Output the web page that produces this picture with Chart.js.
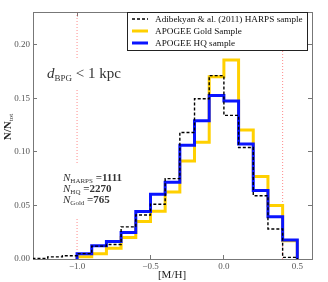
<!DOCTYPE html>
<html>
<head>
<meta charset="utf-8">
<script src="https://cdn.jsdelivr.net/npm/chart.js@4.4.1/dist/chart.umd.min.js"></script>
<style>
html, body { margin: 0; padding: 0; background: #fff; }
</style>
</head>
<body>
<canvas id="mhChart" width="328" height="282"></canvas>
<script>
// bin edges in [M/H], 0.1 dex wide
const harpsEdges = [-1.3, -1.2, -1.1, -1.0, -0.9, -0.8, -0.7, -0.6, -0.5, -0.4, -0.3, -0.2, -0.1, 0.0, 0.1, 0.2, 0.3, 0.4, 0.5];
const apogeeEdges = [-1.0, -0.9, -0.8, -0.7, -0.6, -0.5, -0.4, -0.3, -0.2, -0.1, 0.0, 0.1, 0.2, 0.3, 0.4, 0.5];

// N/Ntot per bin
const harpsValues = [0.0005, 0.002, 0.003, 0.005, 0.012, 0.0135, 0.030, 0.041, 0.051, 0.075, 0.118, 0.1495, 0.171, 0.134, 0.104, 0.059, 0.028, 0.0015];
const goldValues = [0.002, 0.005, 0.010, 0.020, 0.035, 0.0445, 0.0626, 0.0914, 0.109, 0.170, 0.1857, 0.1204, 0.077, 0.050, 0.017];
const hqValues = [0.005, 0.0123, 0.0163, 0.0248, 0.0442, 0.0604, 0.0715, 0.106, 0.129, 0.1526, 0.1474, 0.1072, 0.0638, 0.0393, 0.0178];

const limitLines = [-1.0, 0.4];
const xTicks = [-1.0, -0.5, 0.0, 0.5];
const yTicks = [0.00, 0.05, 0.10, 0.15, 0.20];

const seriesLabels = ['Adibekyan & al. (2011) HARPS sample', 'APOGEE Gold Sample', 'APOGEE HQ sample'];

const X_MIN = -1.3, X_MAX = 0.6, Y_MIN = 0, Y_MAX = 0.23;
const SERIF = '"Liberation Serif", "DejaVu Serif", serif';

// outline of a step histogram: up from 0 at the first edge, down to 0 at the last
function stepPoints(edges, values) {
    const pts = [{ x: edges[0], y: 0 }];
    values.forEach((v, i) => pts.push({ x: edges[i], y: v }));
    pts.push({ x: edges[edges.length - 1], y: 0 });
    return pts;
}

function fmtX(v) {
    return (v < 0 ? '\u2212' : '') + Math.abs(v).toFixed(1);
}

// draws runs of [text, font, dy] one after another
function richText(ctx, x, y, runs) {
    runs.forEach(r => {
        ctx.font = r[1];
        ctx.fillText(r[0], x, y + (r[2] || 0));
        x += ctx.measureText(r[0]).width;
    });
}

const overlay = {
    id: 'overlay',
    afterDatasetsDraw(chart) {
        const ctx = chart.ctx;
        ctx.save();
        // white boxes behind the annotations
        ctx.fillStyle = '#fff';
        ctx.fillRect(42, 58, 82, 30);
        ctx.fillRect(58, 164, 72, 54);

        ctx.fillStyle = '#333';
        ctx.textBaseline = 'alphabetic';
        ctx.textAlign = 'left';
        richText(ctx, 47, 78, [
            ['d', 'italic 15px ' + SERIF],
            ['BPG', '9px ' + SERIF, 3],
            [' < 1 kpc', '15px ' + SERIF]
        ]);
        const counts = [['HARPS', '1111'], ['HQ', '2270'], ['Gold', '765']];
        counts.forEach((c, i) => {
            richText(ctx, 63, 180.5 + i * 11, [
                ['N', 'italic 11px ' + SERIF],
                [c[0], '7px ' + SERIF, 2],
                [' =' + c[1], 'bold 11px ' + SERIF]
            ]);
        });

        // axis titles
        ctx.fillStyle = '#222';
        ctx.textAlign = 'center';
        ctx.font = '11px ' + SERIF;
        ctx.fillText('[M/H]', 172, 278);
        ctx.save();
        ctx.translate(11, 127);
        ctx.rotate(-Math.PI / 2);
        ctx.textAlign = 'left';
        ctx.font = 'bold 11px ' + SERIF;
        const w1 = ctx.measureText('N/N').width;
        ctx.font = '7px ' + SERIF;
        const w2 = ctx.measureText('tot').width;
        richText(ctx, -(w1 + w2) / 2, 0, [
            ['N/N', 'bold 11px ' + SERIF],
            ['tot', '7px ' + SERIF, 2]
        ]);
        ctx.restore();
        ctx.restore();
    },
    afterDraw(chart) {
        const ctx = chart.ctx;
        const ds = chart.data.datasets;
        ctx.save();
        ctx.fillStyle = '#fff';
        ctx.strokeStyle = '#222';
        ctx.lineWidth = 1;
        ctx.fillRect(127.5, 12.5, 180, 38);
        ctx.strokeRect(127.5, 12.5, 180, 38);
        ctx.font = '9.2px ' + SERIF;
        ctx.textBaseline = 'middle';
        ctx.fillStyle = '#111';
        [0, 1, 2].forEach(i => {
            const y = 19 + i * 12;
            ctx.beginPath();
            ctx.strokeStyle = ds[i].borderColor;
            ctx.lineWidth = ds[i].borderWidth;
            ctx.setLineDash(ds[i].borderDash || []);
            ctx.moveTo(132, y);
            ctx.lineTo(148, y);
            ctx.stroke();
            ctx.fillText(seriesLabels[i], 155, y + 0.5);
        });
        ctx.restore();
    }
};

const histStyle = { pointRadius: 0, stepped: 'before', fill: false, tension: 0 };

const datasets = [
    Object.assign({
        label: seriesLabels[0], data: stepPoints(harpsEdges, harpsValues),
        borderColor: '#000', borderWidth: 1.4, borderDash: [3, 2], order: 1
    }, histStyle),
    Object.assign({
        label: seriesLabels[1], data: stepPoints(apogeeEdges, goldValues),
        borderColor: '#ffd000', borderWidth: 3, order: 3
    }, histStyle),
    Object.assign({
        label: seriesLabels[2], data: stepPoints(apogeeEdges, hqValues),
        borderColor: '#0a14ff', borderWidth: 3, order: 2
    }, histStyle)
];
limitLines.forEach(v => datasets.push({
    label: 'limit', data: [{ x: v, y: Y_MIN }, { x: v, y: Y_MAX }],
    borderColor: 'rgba(255, 60, 60, 0.75)', borderWidth: 0.8, borderDash: [1, 2],
    pointRadius: 0, order: 5
}));

function frameAxis(extra) {
    return Object.assign({
        type: 'linear',
        grid: { drawOnChartArea: false, tickLength: -4, color: '#777', lineWidth: 1 },
        border: { color: '#777', width: 1 }
    }, extra);
}

new Chart(document.getElementById('mhChart').getContext('2d'), {
    type: 'line',
    data: { datasets: datasets },
    plugins: [overlay],
    options: {
        responsive: false,
        animation: false,
        devicePixelRatio: 1,
        layout: { padding: { top: 7, right: 16, left: 0, bottom: 0 } },
        plugins: { legend: { display: false }, tooltip: { enabled: false } },
        scales: {
            x: frameAxis({
                position: 'bottom', min: X_MIN, max: X_MAX,
                afterBuildTicks: s => { s.ticks = xTicks.map(v => ({ value: v })); },
                afterFit: s => { s.height = 23; },
                ticks: { padding: 6, color: '#555', font: { family: SERIF, size: 9 }, callback: v => fmtX(v) }
            }),
            x2: frameAxis({
                position: 'top', min: X_MIN, max: X_MAX,
                afterBuildTicks: s => { s.ticks = xTicks.map(v => ({ value: v })); },
                afterFit: s => { s.height = 0; },
                ticks: { display: false }
            }),
            y: frameAxis({
                position: 'left', min: Y_MIN, max: Y_MAX,
                afterBuildTicks: s => { s.ticks = yTicks.map(v => ({ value: v })); },
                afterFit: s => { s.width = 33; },
                ticks: { padding: 7, color: '#555', font: { family: SERIF, size: 9 }, callback: v => v.toFixed(2) }
            }),
            y2: frameAxis({
                position: 'right', min: Y_MIN, max: Y_MAX,
                afterBuildTicks: s => { s.ticks = yTicks.map(v => ({ value: v })); },
                afterFit: s => { s.width = 0; },
                ticks: { display: false }
            })
        }
    }
});
</script>
</body>
</html>
